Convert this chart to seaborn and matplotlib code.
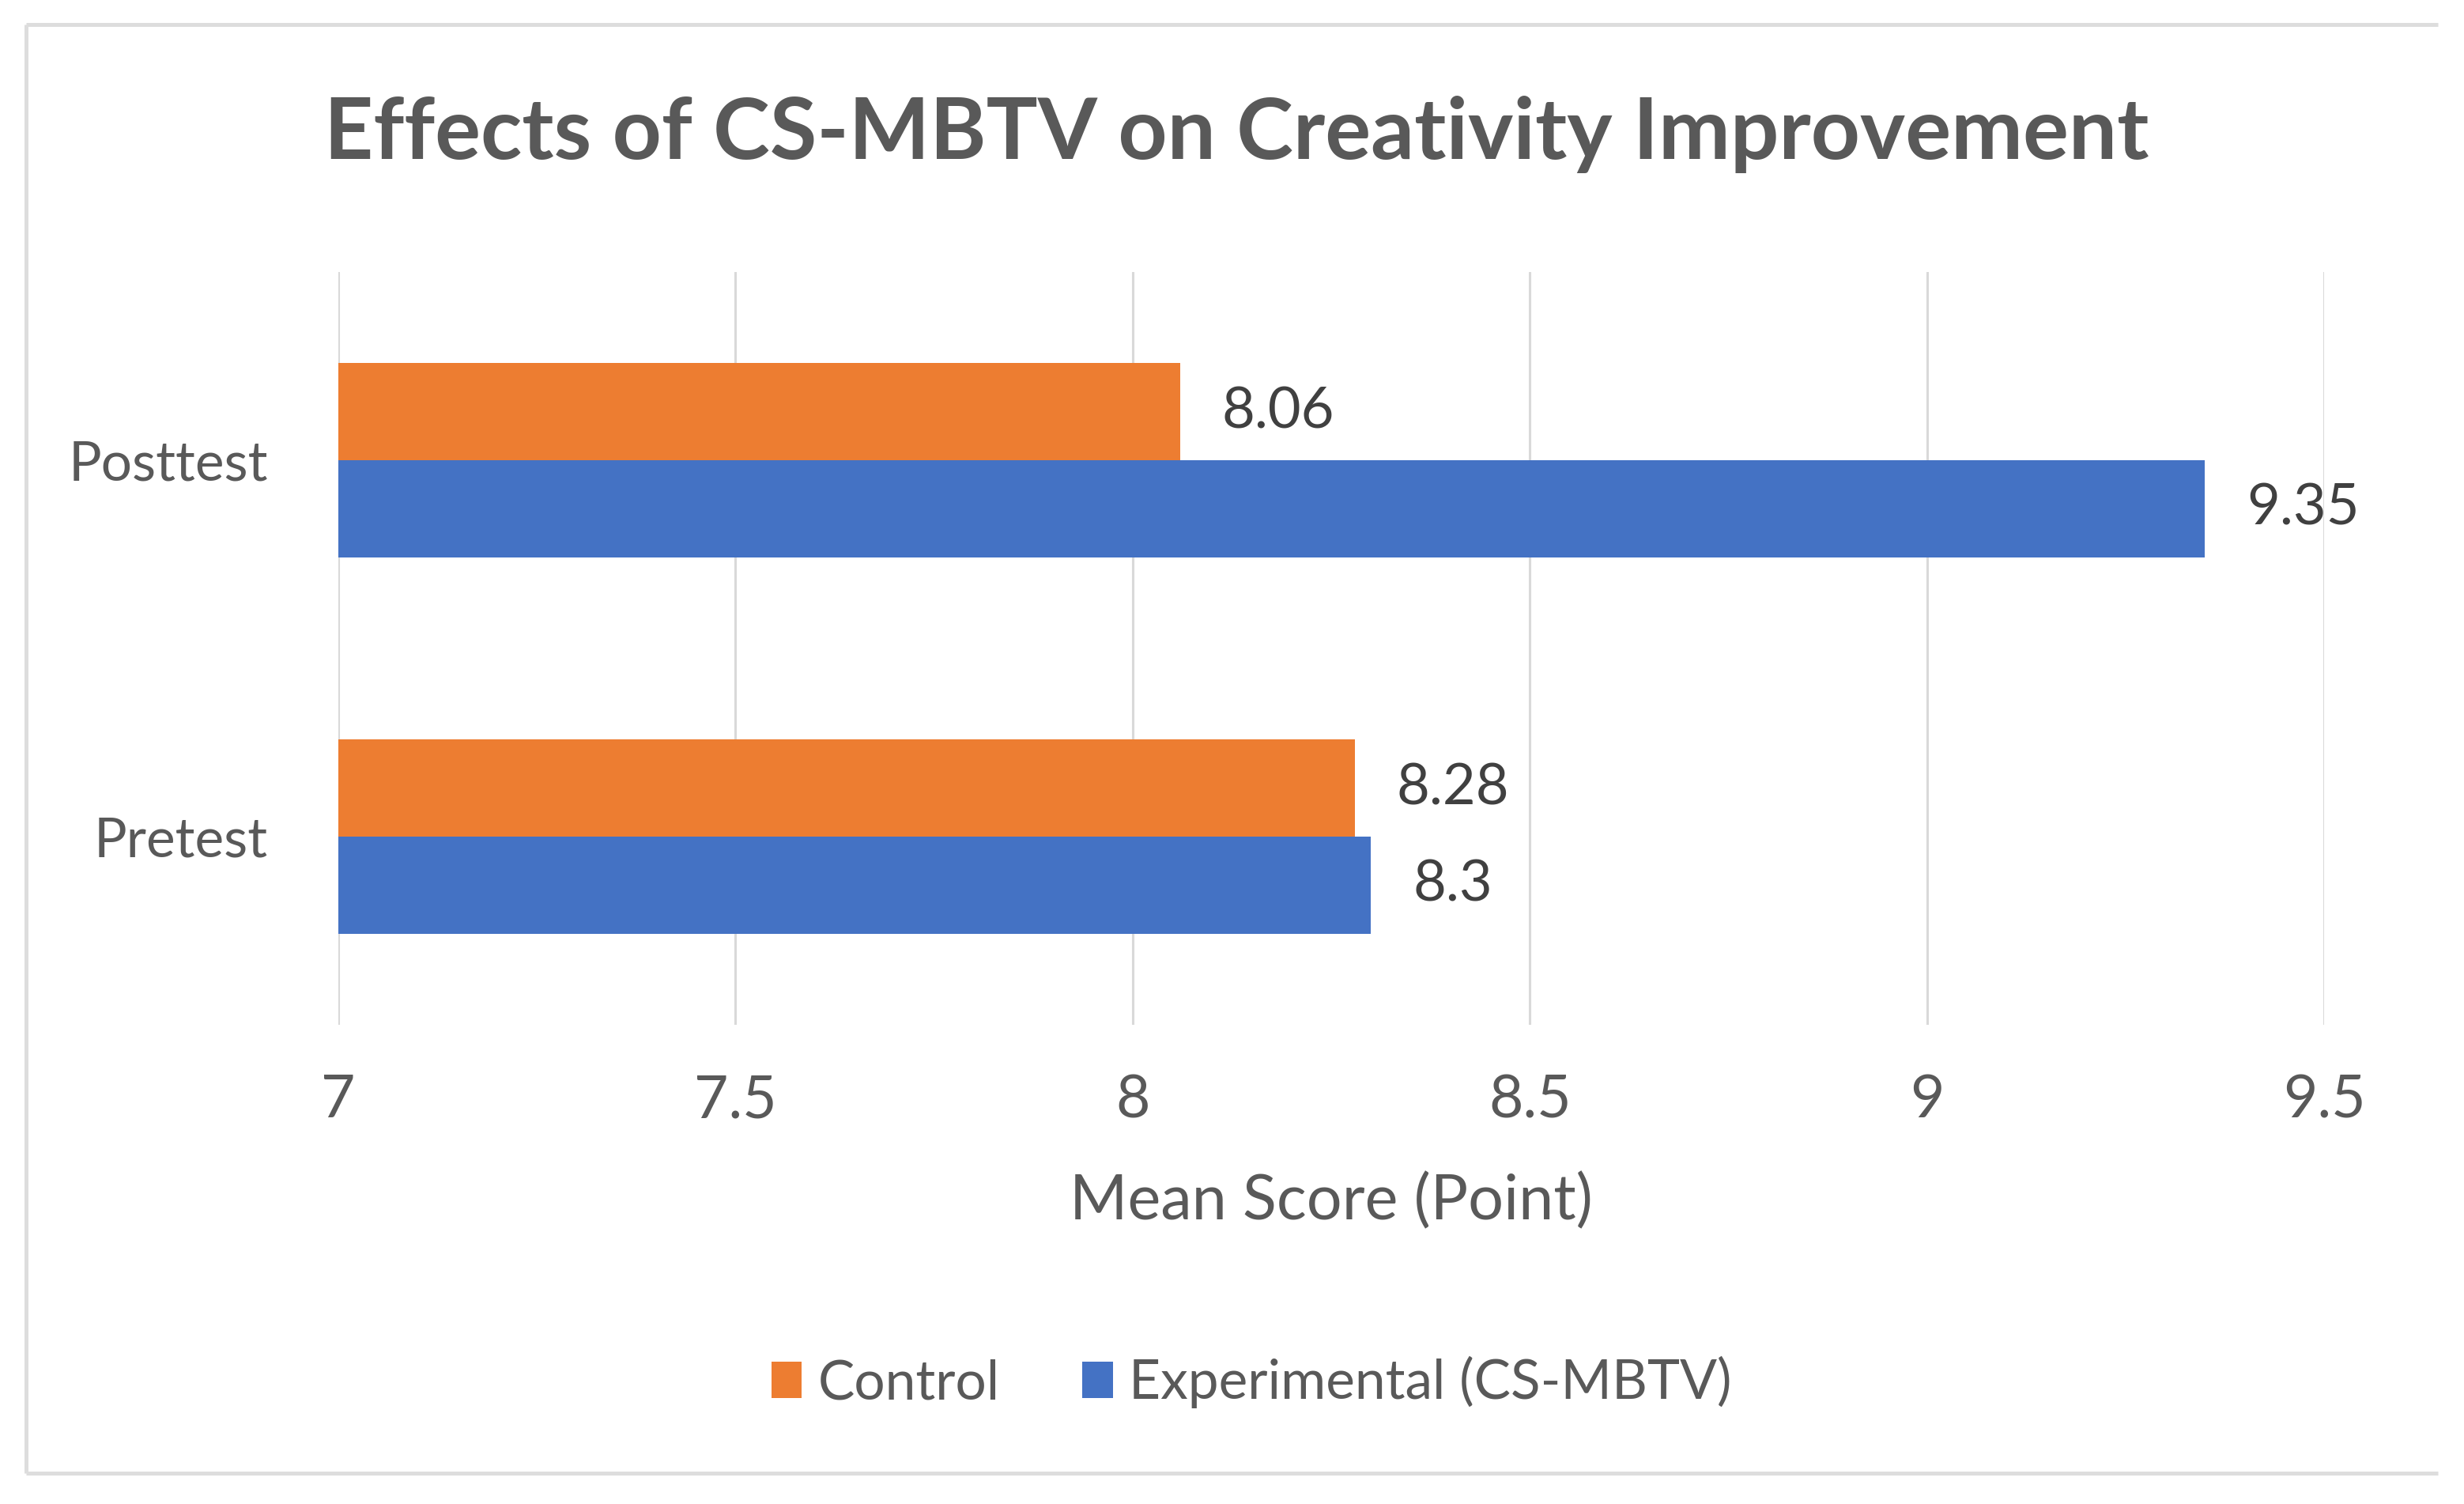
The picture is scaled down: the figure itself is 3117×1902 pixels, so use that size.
import matplotlib
matplotlib.use("Agg")
import matplotlib.pyplot as plt
from matplotlib.lines import Line2D
import seaborn as sns
import pandas as pd

# --- dane ---
categories = ["Posttest", "Pretest"]
groups = ["Control", "Experimental (CS-MBTV)"]
control_scores = [8.06, 8.28]
experimental_scores = [9.35, 8.3]
x_ticks = [7, 7.5, 8, 8.5, 9, 9.5]

df = pd.DataFrame({
    "Test": categories + categories,
    "Group": [groups[0]] * len(categories) + [groups[1]] * len(categories),
    "Score": control_scores + experimental_scores,
})

ORANGE = "#ED7D31"
BLUE = "#4472C4"
TEXT = "#595959"
LABEL = "#404040"
GRID = "#D9D9D9"

sns.set_theme(style="white")
plt.rcParams["font.family"] = ["Lato", "DejaVu Sans"]

W, H, DPI = 3117, 1902, 200
fig = plt.figure(figsize=(W / DPI, H / DPI), dpi=DPI)
fig.patch.set_facecolor("white")

# ramka wokol wykresu (gora, lewo, dol - prawej krawedzi nie widac)
fl, ft, fr, fb = 33 / W, 1 - 31 / H, 3084 / W, 1 - 1863 / H
for xs, ys in [((fl, fr), (ft, ft)), ((fl, fl), (ft, fb)), ((fl, fr), (fb, fb))]:
    fig.add_artist(Line2D(xs, ys, transform=fig.transFigure, color="#DDDDDD", lw=1.8,
                          solid_capstyle="butt", zorder=0))

left, right, top, bottom = 428, 2940, 344, 1296
ax = fig.add_axes([left / W, 1 - bottom / H, (right - left) / W, (bottom - top) / H])

sns.barplot(data=df, y="Test", x="Score", hue="Group", order=categories, hue_order=groups,
            palette=[ORANGE, BLUE], saturation=1, width=0.515, orient="h", ax=ax,
            legend=True, linewidth=0)

ax.set_xlim(7, 9.5)
ax.set_xticks(x_ticks)
ax.set_xticklabels([f"{v:g}" for v in x_ticks])
ax.grid(axis="x", color=GRID, lw=1.1)
ax.set_axisbelow(True)
for s in ax.spines.values():
    s.set_visible(False)
ax.tick_params(axis="x", length=0, pad=22, labelsize=27, labelcolor=TEXT)
ax.tick_params(axis="y", length=0, pad=32, labelsize=25, labelcolor=TEXT)
ax.set_ylabel("")

for cont in ax.containers:
    ax.bar_label(cont, labels=[f"{b.get_width():g}" for b in cont], padding=19,
                 fontsize=26, color=LABEL)

ax.set_xlabel("Mean Score (Point)", fontsize=28.5, color=TEXT, va="center")
ax.xaxis.set_label_coords(0.5, -0.235)

handles, labels = ax.get_legend_handles_labels()
ax.get_legend().remove()
fig.legend(handles, labels, loc="center", bbox_to_anchor=(0.508, 1 - 1748 / H), ncol=2,
           frameon=False, fontsize=25, labelcolor=TEXT, handlelength=0.55, handleheight=0.65,
           handletextpad=0.3, columnspacing=1.5)

fig.text(0.502, 1 - 170 / H, "Effects of CS-MBTV on Creativity Improvement", ha="center",
         va="center", fontsize=39, fontweight="bold", color=TEXT)

fig.savefig("out.png", dpi=DPI)
plt.close(fig)
